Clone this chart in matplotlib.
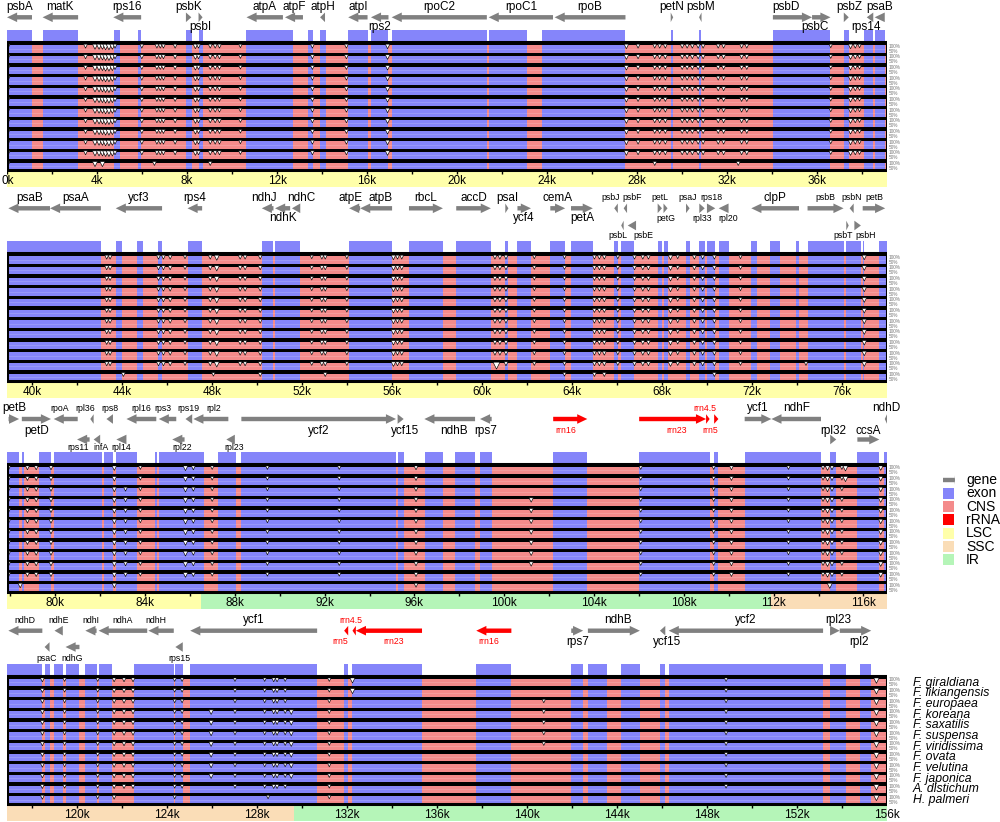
import matplotlib
matplotlib.use('Agg')
import matplotlib.pyplot as plt
from matplotlib.patches import Rectangle, Polygon

plt.rcParams['font.family'] = ['Liberation Sans', 'DejaVu Sans']

EXON = '#8585FA'
CNS = '#F48B8B'
RRNA = '#FF0000'
GENE = '#808080'
REGION_COLORS = {'LSC': '#FFFFAA', 'SSC': '#FADDB7', 'IR': '#B5F5B8'}

species = ['F. giraldiana', 'F. likiangensis', 'F. europaea', 'F. koreana',
           'F. saxatilis', 'F. suspensa', 'F. viridissima', 'F. ovata',
           'F. velutina', 'F. japonica', 'A. distichum', 'H. palmeri']

# genome window shown in each panel (kb)
panel_ranges = [(0.0, 39.1), (38.9, 78.0), (77.85, 117.05), (116.9, 156.0)]

# LSC / IR / SSC stretches (kb)
regions_p1 = [(0.0, 39.1, 'LSC')]
regions_p2 = [(38.9, 78.0, 'LSC')]
regions_p3 = [(77.85, 86.47, 'LSC'), (86.47, 111.9, 'IR'), (111.9, 117.05, 'SSC')]
regions_p4 = [(116.9, 129.65, 'SSC'), (129.65, 156.0, 'IR')]

# exon blocks (kb), everything else is CNS
exons_p1 = [(0.0, 1.11), (1.58, 3.16), (4.75, 5.02), (5.81, 5.96), (7.95, 8.22),
            (8.54, 8.72), (10.64, 12.7), (13.39, 13.58), (13.91, 14.18),
            (15.16, 16.02), (16.17, 16.95), (17.09, 21.32), (21.4, 23.1),
            (23.78, 27.48), (29.49, 29.58), (30.75, 30.84), (34.03, 36.56),
            (37.18, 37.4), (38.07, 38.49), (38.55, 39.0)]
exons_p2 = [(38.9, 43.07), (43.73, 44.0), (44.67, 44.93), (45.59, 45.79),
            (46.92, 47.57), (50.22, 50.74), (50.81, 51.93), (54.1, 56.01),
            (56.76, 58.27), (58.86, 60.4), (61.04, 61.18), (61.58, 62.18),
            (63.04, 63.7), (63.96, 64.93), (65.88, 66.04), (66.19, 66.76),
            (67.81, 68.0), (68.07, 68.25), (69.07, 69.23), (69.66, 69.9),
            (70.0, 70.37), (70.52, 70.96), (71.97, 72.22), (72.81, 73.23),
            (73.94, 74.09), (74.47, 76.07), (76.19, 76.84), (76.92, 76.99),
            (77.63, 78.0)]
exons_p3 = [(77.85, 78.39), (78.51, 78.62), (79.29, 79.81), (79.93, 82.08),
            (82.16, 82.57), (82.72, 83.62), (84.46, 84.54), (84.64, 86.62),
            (87.25, 88.04), (88.29, 95.18), (95.28, 95.52), (96.47, 97.26),
            (97.82, 98.7), (98.92, 99.44), (102.18, 103.7), (106.01, 109.15),
            (109.35, 109.54), (110.71, 114.11), (114.52, 114.79),
            (115.73, 116.71), (116.9, 117.05)]
exons_p4 = [(116.9, 118.47), (118.57, 118.79), (119.01, 119.38), (119.53, 120.12),
            (120.38, 120.88), (120.97, 121.56), (122.54, 124.31), (124.38, 124.71),
            (125.04, 130.68), (131.88, 132.06), (132.25, 135.34), (137.75, 139.31),
            (141.97, 142.5), (142.71, 143.57), (144.16, 145.02), (145.91, 146.15),
            (146.3, 153.16), (153.47, 154.17), (154.78, 155.3)]

# genes: name, start, end, strand
genes_p1 = [('psbA', 0.0, 1.11, -1), ('matK', 1.58, 3.16, -1), ('rps16', 4.72, 5.96, -1),
            ('psbK', 7.95, 8.19, 1), ('psbI', 8.51, 8.69, 1), ('atpA', 10.64, 12.26, -1),
            ('atpF', 12.35, 13.15, -1), ('atpH', 13.91, 14.13, -1), ('atpI', 15.16, 16.02, -1),
            ('rps2', 16.17, 16.95, -1), ('rpoC2', 17.09, 21.32, -1), ('rpoC1', 21.4, 24.26, -1),
            ('rpoB', 24.33, 27.48, -1), ('petN', 29.49, 29.6, 1), ('psbM', 30.75, 30.86, -1),
            ('psbD', 34.03, 35.77, 1), ('psbC', 35.77, 36.59, 1), ('psbZ', 37.18, 37.4, 1),
            ('rps14', 38.2, 38.49, -1), ('psaB', 38.55, 39.0, -1)]
genes_p2 = [('psaB', 38.96, 40.81, -1), ('psaA', 40.81, 43.07, -1), ('ycf3', 43.73, 45.79, -1),
            ('rps4', 46.92, 47.57, -1), ('ndhJ', 50.22, 50.74, -1), ('ndhK', 50.81, 51.48, -1),
            ('ndhC', 51.56, 51.93, -1), ('atpE', 54.1, 54.59, -1), ('atpB', 54.59, 56.01, -1),
            ('rbcL', 56.76, 58.27, 1), ('accD', 58.86, 60.4, 1), ('psaI', 61.04, 61.18, 1),
            ('ycf4', 61.58, 62.18, 1), ('cemA', 63.04, 63.7, 1), ('petA', 63.96, 64.93, 1),
            ('psbJ', 65.88, 66.04, -1), ('psbL', 66.19, 66.3, -1), ('psbF', 66.3, 66.45, -1),
            ('psbE', 66.48, 66.85, -1), ('petL', 67.81, 68.0, 1), ('petG', 68.07, 68.25, 1),
            ('psaJ', 69.07, 69.23, 1), ('rpl33', 69.66, 69.9, 1), ('rps18', 70.0, 70.37, 1),
            ('rpl20', 70.52, 70.96, -1), ('clpP', 71.97, 74.09, -1), ('psbB', 74.47, 76.07, 1),
            ('psbT', 76.19, 76.3, 1), ('psbN', 76.34, 76.52, -1), ('psbH', 76.55, 76.84, 1),
            ('petB', 76.92, 77.92, 1)]
genes_p3 = [('petB', 77.92, 78.39, 1), ('petD', 78.51, 79.81, 1), ('rpoA', 79.93, 81.0, -1),
            ('rps11', 80.97, 81.53, -1), ('rpl36', 81.56, 81.71, -1), ('infA', 81.71, 82.0, -1),
            ('rps8', 82.28, 82.57, -1), ('rpl14', 82.72, 83.17, -1), ('rpl16', 83.17, 84.5, -1),
            ('rps3', 84.61, 85.39, -1), ('rpl22', 85.21, 85.76, -1), ('rps19', 85.8, 86.1, -1),
            ('rpl2', 86.15, 87.71, -1), ('rpl23', 87.62, 88.0, -1), ('ycf2', 88.29, 95.18, 1),
            ('ycf15', 95.25, 95.52, 1), ('ndhB', 96.44, 98.7, -1), ('rps7', 98.92, 99.44, -1),
            ('rrn16', 102.18, 103.7, 1), ('rrn23', 106.01, 108.99, 1), ('rrn4.5', 108.99, 109.15, 1),
            ('rrn5', 109.35, 109.54, 1), ('ycf1', 110.71, 111.9, 1), ('ndhF', 111.9, 114.11, -1),
            ('rpl32', 114.52, 114.79, 1), ('ccsA', 115.73, 116.71, 1), ('ndhD', 116.95, 117.05, -1)]
genes_p4 = [('ndhD', 116.96, 118.47, -1), ('psaC', 118.57, 118.79, -1), ('ndhE', 119.01, 119.38, -1),
            ('ndhG', 119.5, 120.12, -1), ('ndhI', 120.38, 120.88, -1), ('ndhA', 120.97, 123.13, -1),
            ('ndhH', 123.18, 124.31, -1), ('rps15', 124.38, 124.71, -1), ('ycf1', 125.04, 130.68, -1),
            ('rrn5', 131.88, 132.06, -1), ('rrn4.5', 132.25, 132.4, -1), ('rrn23', 132.4, 135.34, -1),
            ('rrn16', 137.75, 139.31, -1), ('rps7', 141.97, 142.5, 1), ('ndhB', 142.71, 145.02, 1),
            ('ycf15', 145.91, 146.15, -1), ('ycf2', 146.3, 153.16, -1), ('rpl23', 153.47, 153.9, 1),
            ('rpl2', 153.9, 155.3, 1)]

# where each gene sits: arrow track (0 upper, 1 lower) + label side (a above, b below)
layout_p1 = ['a0', 'a0', 'a0', 'a0', 'b0', 'a0', 'a0', 'a0', 'a0', 'b0', 'a0', 'a0', 'a0',
             'a0', 'a0', 'a0', 'b0', 'a0', 'b0', 'a0']
layout_p2 = ['a0', 'a0', 'a0', 'a0', 'a0', 'b0', 'a0', 'a0', 'a0', 'a0', 'a0', 'a0', 'b0',
             'a0', 'b0', 'a0', 'b1', 'a0', 'b1', 'a0', 'b0', 'a0', 'b0', 'a0', 'b0', 'a0',
             'a0', 'b1', 'a0', 'b1', 'a0']
layout_p3 = ['a0', 'b0', 'a0', 'b1', 'a0', 'b1', 'a0', 'b1', 'a0', 'a0', 'b1', 'a0', 'a0',
             'b1', 'b0', 'b0', 'b0', 'b0', 'b0', 'b0', 'a0', 'b0', 'a0', 'a0', 'a1', 'a1', 'a0']
layout_p4 = ['a0', 'b1', 'a0', 'b1', 'a0', 'a0', 'a0', 'b1', 'a0', 'b0', 'a0', 'b0', 'b0',
             'b0', 'a0', 'b0', 'a0', 'a0', 'b0']
big_labels_p1 = 'all'
big_labels_p2 = ['psaB', 'psaA', 'ycf3', 'rps4', 'ndhJ', 'ndhK', 'ndhC', 'atpE', 'atpB',
                 'rbcL', 'accD', 'psaI', 'ycf4', 'cemA', 'petA', 'clpP']
big_labels_p3 = ['petB', 'petD', 'ycf2', 'ycf15', 'ndhB', 'rps7', 'ycf1', 'ndhF',
                 'rpl32', 'ccsA', 'ndhD']
big_labels_p4 = ['ycf1', 'rps7', 'ndhB', 'ycf15', 'ycf2', 'rpl23', 'rpl2']
label_shift = {'ndhJ': -0.15, 'ndhC': 0.25, 'atpE': -0.2, 'atpB': 0.2, 'psbJ': -0.25,
               'psbL': -0.2, 'psbF': 0.3, 'psbE': 0.5, 'rpl20': 0.2, 'psbT': -0.2,
               'psbH': 0.35, 'rpoA': -0.25, 'rps11': -0.25, 'rpl36': -0.3, 'infA': 0.2,
               'rps3': -0.2, 'rpl22': 0.15, 'rpl2': 0.15, 'rpl23': 0.15, 'ycf15': 0.2,
               'ndhB': 0.2, 'rrn16': -0.2, 'rrn4.5': -0.15, 'ndhH': -0.25, 'rrn5': -0.25,
               'rrn23': 0.2, 'psbD': -0.3, 'psbC': -0.3, 'psbZ': 0.15, 'rps14': -0.2}

# identity dips: position (kb), min identity (%), first row, last row
dips_p1 = [(0.05, 85, 0, 11), (3.49, 85, 0, 10), (3.91, 75, 0, 11), (4.09, 75, 0, 10),
           (4.24, 75, 0, 11), (4.38, 70, 0, 10), (4.53, 70, 0, 10), (4.68, 75, 0, 10),
           (4.8, 85, 0, 10), (5.99, 85, 0, 10), (6.66, 85, 0, 10), (6.81, 85, 0, 10),
           (6.95, 85, 0, 10), (7.47, 85, 0, 10), (8.37, 80, 0, 10), (8.51, 85, 0, 10),
           (9.03, 85, 0, 11), (9.25, 85, 0, 10), (9.44, 85, 0, 10), (10.37, 88, 0, 10),
           (13.57, 85, 0, 10), (15.08, 85, 0, 10), (16.91, 80, 0, 10), (6.55, 85, 11, 11),
           (27.52, 80, 0, 10), (28.04, 85, 0, 10), (28.78, 85, 0, 11), (29.0, 85, 0, 10),
           (29.25, 85, 0, 10), (30.0, 85, 0, 10), (30.22, 85, 0, 10), (30.45, 85, 0, 10),
           (30.71, 85, 0, 10), (30.93, 85, 0, 10), (31.6, 85, 0, 10), (31.84, 85, 0, 10),
           (32.64, 85, 0, 10), (32.87, 85, 0, 10), (32.49, 85, 11, 11), (36.6, 88, 0, 10),
           (37.48, 80, 0, 10), (37.69, 85, 0, 10), (37.88, 88, 0, 10)]
dips_p2 = [(43.33, 85, 0, 10), (43.48, 85, 0, 10), (44.07, 85, 11, 11), (45.63, 85, 0, 10),
           (45.85, 85, 0, 10), (46.15, 85, 0, 10), (46.81, 88, 0, 10), (47.93, 85, 0, 10),
           (48.22, 75, 0, 10), (48.07, 88, 11, 11), (49.26, 85, 0, 10), (49.48, 85, 0, 10),
           (50.15, 85, 0, 11), (52.44, 88, 0, 10), (52.89, 85, 0, 10), (53.04, 85, 0, 11),
           (54.0, 88, 0, 10), (56.07, 80, 0, 10), (56.25, 85, 0, 10), (56.44, 85, 0, 10),
           (60.58, 85, 0, 9), (60.8, 85, 0, 9), (61.07, 85, 0, 10), (60.65, 55, 10, 10),
           (62.33, 88, 0, 10), (63.67, 88, 0, 11), (65.0, 85, 0, 11), (65.22, 85, 0, 10),
           (65.44, 85, 0, 11), (66.04, 88, 0, 10), (66.78, 85, 0, 10), (67.15, 85, 0, 10),
           (67.4, 85, 0, 10), (68.38, 80, 0, 10), (68.7, 88, 0, 10), (69.44, 85, 0, 10),
           (69.81, 85, 0, 10), (70.33, 85, 0, 11), (71.49, 88, 0, 10), (74.4, 88, 10, 10),
           (76.99, 80, 0, 10)]
dips_p3 = [(77.92, 85, 0, 10), (78.44, 80, 11, 11), (78.76, 85, 0, 10), (79.15, 85, 0, 10),
           (79.81, 85, 0, 10), (82.63, 80, 0, 11), (83.13, 85, 2, 10), (83.79, 88, 0, 10),
           (85.8, 78, 0, 10), (86.15, 85, 0, 10), (86.99, 88, 0, 10), (89.45, 88, 0, 10),
           (92.65, 88, 0, 10), (96.07, 85, 0, 11), (101.2, 82, 3, 9), (106.08, 88, 0, 10),
           (109.33, 88, 0, 10), (110.12, 85, 0, 10), (112.66, 88, 0, 10), (114.2, 88, 0, 10),
           (114.4, 80, 0, 10), (114.6, 85, 0, 10), (114.5, 75, 11, 11), (115.04, 88, 0, 10),
           (115.2, 75, 0, 1), (116.77, 80, 0, 10)]
dips_p4 = [(118.47, 85, 0, 11), (119.46, 88, 0, 10), (120.93, 88, 0, 11), (121.66, 85, 0, 11),
           (122.1, 85, 0, 10), (122.5, 85, 0, 10), (124.35, 88, 0, 11), (124.68, 88, 0, 10),
           (125.97, 80, 3, 9), (127.03, 88, 0, 10), (128.35, 88, 0, 10), (128.5, 88, 11, 11),
           (128.75, 85, 0, 10), (128.9, 85, 0, 10), (129.26, 88, 0, 10), (129.53, 80, 3, 9),
           (131.22, 88, 0, 11), (132.25, 75, 0, 1), (140.75, 88, 2, 6), (148.85, 88, 0, 10),
           (155.53, 72, 0, 11)]

panels = [
    (regions_p1, exons_p1, genes_p1, layout_p1, big_labels_p1, dips_p1),
    (regions_p2, exons_p2, genes_p2, layout_p2, big_labels_p2, dips_p2),
    (regions_p3, exons_p3, genes_p3, layout_p3, big_labels_p3, dips_p3),
    (regions_p4, exons_p4, genes_p4, layout_p4, big_labels_p4, dips_p4),
]

# page layout in pixels
W, H = 1000, 822
box_tops = [42.3, 253.3, 464.0, 676.0]
# y of: label above track0, track0, label between, track1, label below track1
tracks = [(-35.5, -25.0, -15.5, None, None),
          (-55.5, -45.0, -35.0, -27.8, -17.3),
          (-56.0, -45.0, -33.5, -24.5, -16.5),
          (-56.0, -45.3, -34.5, -29.0, -17.5)]
NROW = 12
PITCH = 10.67
BOX_H = NROW * PITCH
BAR_H = 17.0
TOP_SPACE = 60.0


def draw_gene(ax, s, e, strand, y, color):
    ln = e - s
    hl = min(0.45, ln)
    sw, hw = 2.2, 4.8
    if strand > 0:
        tip, base, tail = e, e - hl, s
    else:
        tip, base, tail = s, s + hl, e
    pts = [(tail, y - sw), (base, y - sw), (base, y - hw), (tip, y),
           (base, y + hw), (base, y + sw), (tail, y + sw)]
    ax.add_patch(Polygon(pts, closed=True, facecolor=color, edgecolor='none', zorder=3))


fig = plt.figure(figsize=(W / 100, H / 100), dpi=100)

for pi, (regions, exons, genes, layout, big, dips) in enumerate(panels):
    x0, x1 = panel_ranges[pi]
    bt = box_tops[pi]
    top_px = bt - TOP_SPACE
    bot_px = bt + BOX_H + BAR_H
    ax = fig.add_axes([7 / W, 1 - bot_px / H, 880 / W, (bot_px - top_px) / H])
    ax.set_xlim(x0, x1)
    ax.set_ylim(BOX_H + BAR_H, -TOP_SPACE)
    ax.axis('off')
    span = x1 - x0

    # genes
    lt, tr0, lm, tr1, lb = tracks[pi]
    for (name, s, e, strand), code in zip(genes, layout):
        side, row = code[0], int(code[1])
        ya = tr0 if row == 0 else tr1
        if side == 'a':
            yl = lt if row == 0 else lm
        else:
            yl = lm if row == 0 else lb
        rrna = name.startswith('rrn')
        col = RRNA if rrna else GENE
        draw_gene(ax, s, e, strand, ya, col)
        fs = 8.5 if (big == 'all' or name in big) else 6.3
        ax.text((s + e) / 2 + label_shift.get(name, 0.0), yl, name, fontsize=fs,
                ha='center', va='center', color=RRNA if rrna else 'black', zorder=4)

    # exon strip above the box
    ax.broken_barh([(a, b - a) for a, b in exons], (-12.0, 11.5), facecolors=EXON, zorder=2)

    # box background + rows
    ax.add_patch(Rectangle((x0, 0), span, BOX_H, facecolor='black', edgecolor='none', zorder=1))
    cns_exon = [(a, b - a) for a, b in exons]
    for r in range(NROW):
        yb = r * PITCH + 2.9
        hb = 7.4
        ax.broken_barh([(x0, span)], (yb, hb), facecolors=CNS, zorder=2)
        ax.broken_barh(cns_exon, (yb, hb), facecolors=EXON, zorder=2)
        ax.hlines(yb + hb * 0.45, x0, x1, colors='white', alpha=0.18, lw=0.6, zorder=2)
        ax.text(1.002, yb + 1.0, '100%', transform=ax.get_yaxis_transform(),
                fontsize=3.4, color='#777777', va='center', ha='left')
        ax.text(1.002, yb + 5.8, '50%', transform=ax.get_yaxis_transform(),
                fontsize=3.4, color='#777777', va='center', ha='left')
        if pi == 3:
            ax.text(1.029, yb + hb / 2, species[r], transform=ax.get_yaxis_transform(),
                    fontsize=8.8, style='italic', va='center', ha='left')
        px, py, ps = [], [], []
        for pos, ident, r0, r1 in dips:
            if r0 <= r <= r1:
                px.append(pos)
                py.append(yb + (100 - ident) * 0.06)
                ps.append((100 - ident) * 0.55)
        ax.scatter(px, py, s=ps, marker='v', facecolor='white', edgecolor='black',
                   linewidths=0.45, zorder=5)
    ax.add_patch(Rectangle((x0, 0), span, BOX_H, facecolor='none', edgecolor='black',
                           lw=2.2, zorder=6))

    # region bar, ticks, labels
    ax.broken_barh([(a, b - a) for a, b, _ in regions], (BOX_H + 0.8, BAR_H - 0.8),
                   facecolors=[REGION_COLORS[t] for _, _, t in regions], zorder=2)
    k = int(x0 // 2 + 1) * 2
    while k <= x1 + 0.01:
        if k < x1 - 0.05:
            ax.vlines(k, BOX_H + 0.8, BOX_H + 3.8, colors='black', lw=1.0, zorder=3)
        if k % 4 == 0:
            ax.text(k, BOX_H + 10.5, f'{k}k', fontsize=8.5, ha='center', va='center', zorder=4)
        k += 2
    if x0 == 0:
        ax.vlines(0.02, BOX_H + 0.8, BOX_H + 3.8, colors='black', lw=1.0, zorder=3)
        ax.text(0.02, BOX_H + 10.5, '0k', fontsize=8.5, ha='center', va='center', zorder=4)

# legend
leg_names = ['gene', 'exon', 'CNS', 'rRNA', 'LSC', 'SSC', 'IR']
leg_colors = [GENE, EXON, CNS, RRNA, REGION_COLORS['LSC'], REGION_COLORS['SSC'], REGION_COLORS['IR']]
lax = fig.add_axes([935 / W, 1 - 572 / H, 65 / W, 100 / H])
lax.set_xlim(0, 65)
lax.set_ylim(100, 0)
lax.axis('off')
for i, (nm, c) in enumerate(zip(leg_names, leg_colors)):
    yc = 8 + i * 13.3
    if nm == 'gene':
        draw_gene(lax, 8, 20, 1, yc, c)
    else:
        lax.add_patch(Rectangle((8, yc - 5.5), 10.5, 11, facecolor=c, edgecolor='none'))
    lax.text(31, yc, nm, fontsize=10, va='center', ha='left')

fig.savefig('out.png', dpi=100)
